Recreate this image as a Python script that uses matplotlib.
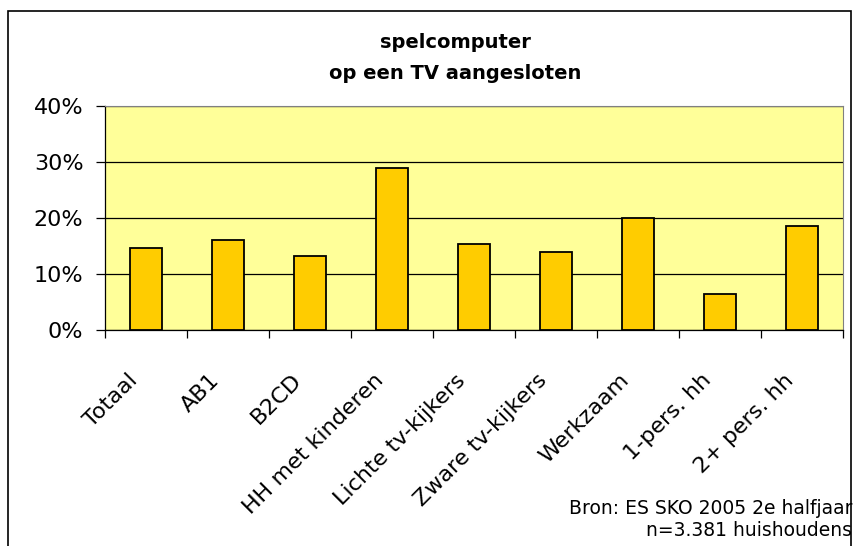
import matplotlib.pyplot as plt
import matplotlib.patches as patches
import matplotlib.transforms as mtransforms
from matplotlib.ticker import FixedLocator, PercentFormatter

categories = ['Totaal', 'AB1', 'B2CD', 'HH met kinderen', 'Lichte tv-kijkers',
              'Zware tv-kijkers', 'Werkzaam', '1-pers. hh', '2+ pers. hh']
values = [14.6, 16.1, 13.2, 28.9, 15.4, 13.9, 20.0, 6.4, 18.5]
yticks = [0, 10, 20, 30, 40]

plt.rcParams['font.family'] = ['DejaVu Sans']

fig = plt.figure(figsize=(8.55, 5.46), dpi=100)
ax = fig.add_axes([105 / 855, 1 - 330 / 546, (843 - 105) / 855, (330 - 106) / 546])

# outer chart frame
fig.patches.append(patches.Rectangle((8 / 855, -0.01), (851 - 8) / 855, 1 - 11 / 546 + 0.01,
                                     transform=fig.transFigure, fill=False,
                                     edgecolor='black', linewidth=1.2))

x = list(range(len(categories)))
ax.set_facecolor('#FFFF99')
ax.bar(x, values, width=0.4, color='#FFCC00', edgecolor='black', linewidth=1.3, zorder=3)

ax.set_xlim(-0.5, len(categories) - 0.5)
ax.set_ylim(0, 40)
ax.yaxis.set_major_locator(FixedLocator(yticks))
ax.yaxis.set_major_formatter(PercentFormatter(decimals=0))
ax.grid(axis='y', color='black', linewidth=0.9, zorder=1)
ax.set_axisbelow(True)

# ticks between categories, labels at centers
ax.set_xticks([i - 0.5 for i in range(len(categories) + 1)])
ax.set_xticklabels([])
ax.set_xticks(x, minor=True)
ax.set_xticklabels(categories, minor=True, rotation=45, ha='right', va='center',
                   rotation_mode='anchor', fontsize=16)
ax.tick_params(axis='x', which='minor', length=0, pad=34)
ax.tick_params(axis='x', which='major', length=6, width=0.9, direction='out')
ax.tick_params(axis='y', length=6.5, width=0.9, labelsize=16, pad=9)

# nudge rotated labels a bit to the left
shift = mtransforms.ScaledTranslation(-0.12, 0, fig.dpi_scale_trans)
for lbl in ax.get_xticklabels(minor=True):
    lbl.set_transform(lbl.get_transform() + shift)

for s in ['top', 'right']:
    ax.spines[s].set_color('#808080')
for s in ['left', 'bottom']:
    ax.spines[s].set_color('black')
    ax.spines[s].set_linewidth(0.9)

fig.text(455 / 855, 1 - 58 / 546, 'spelcomputer\nop een TV aangesloten', ha='center', va='center',
         fontsize=14, fontweight='bold', linespacing=1.75)

fig.text(852 / 855, 1 - 520 / 546, 'Bron: ES SKO 2005 2e halfjaar\nn=3.381 huishoudens',
         ha='right', va='center', fontsize=13.5, linespacing=1.2)

fig.savefig('out.png', dpi=100)
